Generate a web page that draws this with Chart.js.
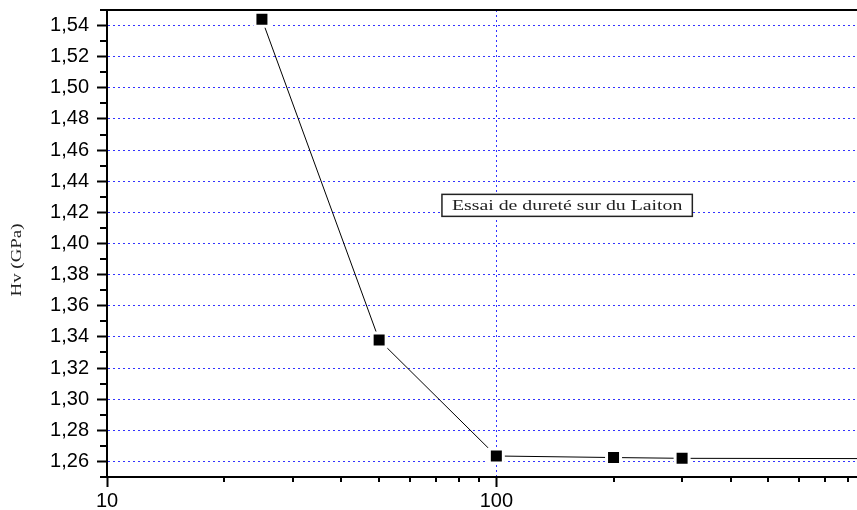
<!DOCTYPE html>
<html>
<head>
<meta charset="utf-8">
<script src="https://cdn.jsdelivr.net/npm/chart.js@4.4.0/dist/chart.umd.min.js"></script>
<style>
  html, body { margin: 0; padding: 0; background: #fff; }
  #wrap { width: 857px; height: 510px; }
</style>
</head>
<body>
<div id="wrap"><canvas id="chart"></canvas></div>
<script>
/* ── Data ─────────────────────────────────────────────── */
const loads    = [25, 50, 100, 200, 300, 1000];           // charge (g), log axis
const hardness = [1.544, 1.338, 1.2635, 1.2625, 1.262, 1.2618]; // Hv (GPa)
const xDecades = [10, 100, 1000];
const xMin = 10, xMax = 844;
const yMin = 1.25, yMax = 1.55, yStep = 0.01;
const yTitle = 'Hv (GPa)';
const noteText = 'Essai de dureté sur du Laiton';
const noteAt = { x: 152, y: 1.4245 };

const BLUE = '#3333ff';
const TICK_FONT = { family: "'Liberation Sans', Arial, sans-serif", size: 20 };

const isMajorY = v => Math.round(v * 100) % 2 === 0;
const isDecade = v => xDecades.some(d => Math.abs(v - d) < 1e-6);
const isIntSig = v => {
  const s = v / Math.pow(10, Math.floor(Math.log10(v) + 1e-9));
  return Math.abs(s - Math.round(s)) < 1e-6;
};
const noPad = s => { s.paddingTop = s.paddingBottom = s.paddingLeft = s.paddingRight = 0; };

/* ── Extras: minor ticks, top frame, title, note box ──── */
const extras = {
  id: 'extras',
  afterDraw(chart) {
    const { ctx, chartArea: a, scales: { x, y } } = chart;
    ctx.save();
    ctx.strokeStyle = '#000';
    ctx.lineWidth = 2;

    // minor ticks
    y.ticks.forEach(t => {
      if (isMajorY(t.value)) return;
      const py = Math.round(y.getPixelForValue(t.value));
      ctx.beginPath(); ctx.moveTo(a.left, py); ctx.lineTo(a.left - 7, py); ctx.stroke();
    });
    x.ticks.forEach(t => {
      if (isDecade(t.value) || !isIntSig(t.value)) return;
      const px = Math.round(x.getPixelForValue(t.value));
      ctx.beginPath(); ctx.moveTo(px, a.bottom); ctx.lineTo(px, a.bottom + 5); ctx.stroke();
    });

    // top frame line
    ctx.beginPath(); ctx.moveTo(a.left - 1, a.top); ctx.lineTo(a.right, a.top); ctx.stroke();

    // y title
    ctx.fillStyle = '#222';
    ctx.font = "14px 'Liberation Serif', 'Times New Roman', serif";
    ctx.textAlign = 'center';
    ctx.textBaseline = 'middle';
    ctx.translate(17, 260);
    ctx.rotate(-Math.PI / 2);
    ctx.scale(1.35, 1);
    ctx.fillText(yTitle, 0, 0);
    ctx.restore();

    // annotation box
    ctx.save();
    const cx = x.getPixelForValue(noteAt.x);
    const cy = y.getPixelForValue(noteAt.y);
    const stretch = 1.32;
    ctx.font = "15px 'Liberation Serif', 'Times New Roman', serif";
    const w = ctx.measureText(noteText).width * stretch + 20;
    const h = 22;
    ctx.fillStyle = '#fff';
    ctx.fillRect(cx - w / 2, cy - h / 2, w, h);
    ctx.strokeStyle = '#222';
    ctx.lineWidth = 1.5;
    ctx.strokeRect(cx - w / 2, cy - h / 2, w, h);
    ctx.fillStyle = '#222';
    ctx.textAlign = 'center';
    ctx.textBaseline = 'middle';
    ctx.translate(cx, cy + 1);
    ctx.scale(stretch, 1);
    ctx.fillText(noteText, 0, 0);
    ctx.restore();
  }
};

/* ── Chart ────────────────────────────────────────────── */
new Chart(document.getElementById('chart'), {
  type: 'line',
  data: {
    datasets: [{
      data: loads.map((v, i) => ({ x: v, y: hardness[i] })),
      borderColor: '#000',
      borderWidth: 1,
      tension: 0,
      pointStyle: 'rect',
      pointRadius: 9.9,
      pointBackgroundColor: '#000',
      pointBorderColor: '#fff',
      pointBorderWidth: 3,
    }],
  },
  options: {
    responsive: true,
    maintainAspectRatio: false,
    animation: false,
    layout: { autoPadding: false, padding: { top: 10, right: 0, left: 0, bottom: 0 } },
    plugins: { legend: { display: false }, tooltip: { enabled: false } },
    scales: {
      x: {
        type: 'logarithmic',
        min: xMin,
        max: xMax,
        afterFit: s => { s.height = 33; noPad(s); },
        ticks: {
          autoSkip: false,
          maxRotation: 0,
          color: '#000',
          font: TICK_FONT,
          padding: 2,
          callback: v => isDecade(v) ? String(v) : '',
        },
        grid: {
          color: c => (c.tick && isDecade(c.tick.value) && c.tick.value > xMin) ? BLUE : 'transparent',
          lineWidth: 1,
          tickLength: 10,
          tickWidth: 2,
          tickColor: c => (c.tick && isDecade(c.tick.value)) ? '#000' : 'transparent',
        },
        border: { color: '#000', width: 2, dash: [2, 3] },
      },
      y: {
        min: yMin,
        max: yMax,
        afterFit: s => { s.width = 107; noPad(s); },
        ticks: {
          stepSize: yStep,
          autoSkip: false,
          color: '#000',
          font: TICK_FONT,
          padding: 8,
          callback: v => isMajorY(v) ? v.toFixed(2).replace('.', ',') : '',
        },
        grid: {
          color: c => (c.tick && isMajorY(c.tick.value)) ? BLUE : 'transparent',
          lineWidth: 1,
          tickLength: 10,
          tickWidth: 2,
          tickColor: c => (c.tick && isMajorY(c.tick.value)) ? '#000' : 'transparent',
        },
        border: { color: '#000', width: 2, dash: [2, 3] },
      },
    },
  },
  plugins: [extras],
});
</script>
</body>
</html>
